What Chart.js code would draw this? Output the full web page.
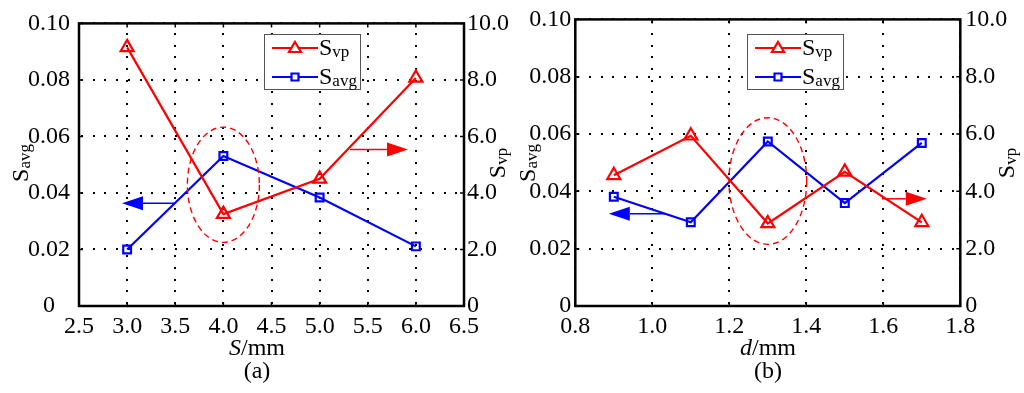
<!DOCTYPE html>
<html>
<head>
<meta charset="utf-8">
<script src="https://cdn.jsdelivr.net/npm/chart.js@4"></script>
<style>
  html, body { margin: 0; padding: 0; background: #fff; }
  .row { display: flex; width: 1024px; height: 393px; }
  .panel { width: 512px; height: 393px; }
</style>
</head>
<body>
<div class="row">
  <div class="panel"><canvas id="chartA" width="512" height="393"></canvas></div>
  <div class="panel"><canvas id="chartB" width="512" height="393"></canvas></div>
</div>
<script>
// Panel (a): spacing S
const sA = [3.0, 4.0, 5.0, 6.0];
const svpA = [9.15, 3.25, 4.50, 8.07];
const savgA = [0.0200, 0.0531, 0.0384, 0.0211];

// Panel (b): diameter d
const dB = [0.9, 1.1, 1.3, 1.5, 1.7];
const svpB = [4.56, 5.94, 2.88, 4.68, 2.92];
const savgB = [0.0381, 0.0292, 0.0574, 0.0359, 0.0569];

const SERIF = "'Liberation Serif', 'DejaVu Serif', serif";
const RED = '#ff0000';
const BLUE = '#0000ff';

// draw text made of parts (big S + small subscript)
function richWidth(ctx, parts) {
    let w = 0;
    parts.forEach(p => { ctx.font = p.font; w += ctx.measureText(p.t).width; });
    return w;
}
function drawRich(ctx, parts, x, y) {
    let cx = x;
    parts.forEach(p => {
        ctx.font = p.font;
        ctx.fillText(p.t, cx, y + (p.dy || 0));
        cx += ctx.measureText(p.t).width;
    });
}
const lblSvp = [{ t: 'S', font: '24px ' + SERIF }, { t: 'vp', font: '17px ' + SERIF, dy: 2 }];
const lblSavg = [{ t: 'S', font: '24px ' + SERIF }, { t: 'avg', font: '17px ' + SERIF, dy: 2 }];

function arrowHead(ctx, x1, y, x2, len, half) {
    const dir = Math.sign(x2 - x1);
    ctx.beginPath();
    ctx.moveTo(x1, y);
    ctx.lineTo(x2 - dir * len, y);
    ctx.stroke();
    ctx.beginPath();
    ctx.moveTo(x2, y);
    ctx.lineTo(x2 - dir * len, y - half);
    ctx.lineTo(x2 - dir * len, y + half);
    ctx.closePath();
    ctx.fill();
}

const DOT_STEP = 11.7;

const decorPlugin = {
    id: 'decor',
    beforeDatasetsDraw(chart) {
        // dotted grid, drawn as crisp 2px dots
        const ctx = chart.ctx;
        const a = chart.chartArea;
        const x = chart.scales.x, y = chart.scales.y;
        ctx.save();
        ctx.fillStyle = '#000';
        x.ticks.forEach(t => {
            const px = Math.round(x.getPixelForValue(t.value));
            for (let yy = a.bottom - 3; yy > a.top + 2; yy -= DOT_STEP) {
                ctx.fillRect(px - 1, Math.round(yy) - 1, 2, 2);
            }
        });
        y.ticks.forEach(t => {
            const py = Math.round(y.getPixelForValue(t.value));
            for (let xx = a.left + 3; xx < a.right - 2; xx += DOT_STEP) {
                ctx.fillRect(Math.round(xx) - 1, py - 1, 2, 2);
            }
        });
        ctx.restore();
    },
    afterDatasetsDraw(chart, args, opts) {
        const ctx = chart.ctx;
        const a = chart.chartArea;
        const x = chart.scales.x, y = chart.scales.y, y1 = chart.scales.y1;
        ctx.save();

        // frame + inner ticks
        ctx.strokeStyle = '#000';
        ctx.lineWidth = 1.5;
        ctx.setLineDash([]);
        y.ticks.forEach(t => {
            const py = y.getPixelForValue(t.value);
            ctx.beginPath();
            ctx.moveTo(a.left, py); ctx.lineTo(a.left + 4, py);
            ctx.moveTo(a.right, py); ctx.lineTo(a.right - 4, py);
            ctx.stroke();
        });
        x.ticks.forEach(t => {
            const px = x.getPixelForValue(t.value);
            ctx.beginPath();
            ctx.moveTo(px, a.bottom); ctx.lineTo(px, a.bottom - 4);
            ctx.moveTo(px, a.top); ctx.lineTo(px, a.top + 4);
            ctx.stroke();
        });
        ctx.lineWidth = 2.5;
        ctx.strokeRect(a.left, a.top, a.right - a.left, a.bottom - a.top);

        // dashed ellipse
        const e = opts.ellipse;
        const ex = x.getPixelForValue(e.x), ey = y.getPixelForValue(e.y);
        const rx = x.getPixelForValue(e.x + e.rx) - ex;
        const ry = ey - y.getPixelForValue(e.y + e.ry);
        ctx.strokeStyle = RED;
        ctx.lineWidth = 1.4;
        ctx.setLineDash([6, 4]);
        ctx.beginPath();
        ctx.ellipse(ex, ey, rx, ry, 0, 0, Math.PI * 2);
        ctx.stroke();
        ctx.setLineDash([]);

        // arrows pointing to the axis each series belongs to
        const ba = opts.blueArrow, ra = opts.redArrow;
        ctx.lineWidth = 1.5;
        ctx.strokeStyle = BLUE; ctx.fillStyle = BLUE;
        arrowHead(ctx, x.getPixelForValue(ba.from), y.getPixelForValue(ba.y), x.getPixelForValue(ba.to), 21, 7);
        ctx.strokeStyle = RED; ctx.fillStyle = RED;
        arrowHead(ctx, x.getPixelForValue(ra.from), y1.getPixelForValue(ra.y), x.getPixelForValue(ra.to), 21, 7);

        // legend
        const L = opts.legend;
        ctx.fillStyle = '#fff';
        ctx.fillRect(L.x, L.y, 96, 55);
        ctx.strokeStyle = '#555';
        ctx.lineWidth = 1;
        ctx.strokeRect(L.x + 0.5, L.y + 0.5, 96, 55);
        const rows = [
            { color: RED, lbl: lblSvp, style: 'tri', ly: L.y + 14 },
            { color: BLUE, lbl: lblSavg, style: 'sq', ly: L.y + 43 }
        ];
        rows.forEach(r => {
            ctx.strokeStyle = r.color;
            ctx.lineWidth = 2.2;
            ctx.beginPath();
            ctx.moveTo(L.x + 8, r.ly); ctx.lineTo(L.x + 54, r.ly);
            ctx.stroke();
            const mx = L.x + 31;
            ctx.fillStyle = '#fff';
            ctx.beginPath();
            if (r.style === 'tri') {
                ctx.moveTo(mx, r.ly - 6); ctx.lineTo(mx + 6, r.ly + 4); ctx.lineTo(mx - 6, r.ly + 4);
                ctx.closePath();
            } else {
                ctx.rect(mx - 3.5, r.ly - 3.5, 7, 7);
            }
            ctx.fill();
            ctx.stroke();
            ctx.fillStyle = '#000';
            ctx.textAlign = 'left';
            ctx.textBaseline = 'alphabetic';
            drawRich(ctx, r.lbl, L.x + 55, r.ly + 7);
        });

        // axis titles (rotated)
        ctx.fillStyle = '#000';
        ctx.textAlign = 'left';
        ctx.textBaseline = 'alphabetic';
        [[lblSavg, opts.leftTitleX], [lblSvp, opts.rightTitleX]].forEach(([lbl, tx]) => {
            const w = richWidth(ctx, lbl);
            ctx.save();
            ctx.translate(tx, 163);
            ctx.rotate(-Math.PI / 2);
            drawRich(ctx, lbl, -w / 2, 0);
            ctx.restore();
        });

        // x title + panel label
        const xt = [{ t: opts.xVar, font: 'italic 24px ' + SERIF }, { t: '/mm', font: '24px ' + SERIF }];
        const xw = richWidth(ctx, xt);
        drawRich(ctx, xt, opts.titleCx - xw / 2, 355);
        ctx.font = '24px ' + SERIF;
        ctx.textAlign = 'center';
        ctx.fillText(opts.panel, opts.titleCx, 378);

        ctx.restore();
    }
};

function makeChart(id, xs, svp, savg, cfg) {
    const fmt1 = v => (Math.abs(v) < 1e-9 ? '0' : v.toFixed(1));
    const fmt2 = v => (Math.abs(v) < 1e-9 ? '0' : v.toFixed(2));
    const tickFont = { family: SERIF, size: 24 };
    return new Chart(document.getElementById(id), {
        type: 'line',
        data: {
            datasets: [
                {
                    label: 'Svp',
                    data: xs.map((v, i) => ({ x: v, y: svp[i] })),
                    yAxisID: 'y1',
                    borderColor: RED,
                    backgroundColor: 'rgba(0,0,0,0)',
                    borderWidth: 2.2,
                    pointStyle: 'triangle',
                    pointRadius: 7.5,
                    pointBorderWidth: 2.2,
                    tension: 0
                },
                {
                    label: 'Savg',
                    data: xs.map((v, i) => ({ x: v, y: savg[i] })),
                    yAxisID: 'y',
                    borderColor: BLUE,
                    backgroundColor: 'rgba(0,0,0,0)',
                    borderWidth: 2.2,
                    pointStyle: 'rect',
                    pointRadius: 5.5,
                    pointBorderWidth: 2.2,
                    tension: 0
                }
            ]
        },
        options: {
            responsive: false,
            animation: false,
            devicePixelRatio: 1,
            layout: { padding: { top: 17, left: 0, right: 0, bottom: 0 } },
            plugins: {
                legend: { display: false },
                tooltip: { enabled: false },
                decor: cfg.decor
            },
            scales: {
                x: {
                    type: 'linear',
                    min: cfg.xMin, max: cfg.xMax,
                    ticks: { stepSize: cfg.xStep, color: '#000', font: tickFont, padding: 6, callback: fmt1, maxRotation: 0, autoSkip: false },
                    grid: { display: false, drawTicks: false },
                    border: { display: false },
                    afterFit: s => { s.height = 87; }
                },
                y: {
                    position: 'left',
                    min: 0, max: 0.1,
                    ticks: { stepSize: 0.02, color: '#000', font: tickFont, padding: cfg.leftPad, crossAlign: cfg.leftAlign, callback: fmt2 },
                    grid: { display: false, drawTicks: false },
                    border: { display: false },
                    afterFit: s => { s.width = cfg.leftW; }
                },
                y1: {
                    position: 'right',
                    min: 0, max: 10,
                    ticks: { stepSize: 2, color: '#000', font: tickFont, padding: cfg.rightPad, callback: fmt1 },
                    grid: { display: false, drawTicks: false },
                    border: { display: false },
                    afterFit: s => { s.width = cfg.rightW; }
                }
            }
        },
        plugins: [decorPlugin]
    });
}

makeChart('chartA', sA, svpA, savgA, {
    xMin: 2.5, xMax: 6.5, xStep: 0.5,
    leftW: 79, rightW: 48, leftPad: 9, rightPad: 3, leftAlign: 'center',
    decor: {
        ellipse: { x: 4.0, y: 0.0429, rx: 0.374, ry: 0.0204 },
        blueArrow: { from: 3.5, to: 2.947, y: 0.0364 },
        redArrow: { from: 5.316, to: 5.918, y: 5.54 },
        legend: { x: 264, y: 34 },
        leftTitleX: 28, rightTitleX: 505,
        xVar: 'S', panel: '(a)', titleCx: 257
    }
});

makeChart('chartB', dB, svpB, savgB, {
    xMin: 0.8, xMax: 1.8, xStep: 0.2,
    leftW: 63.3, rightW: 63.7, leftPad: 4, rightPad: 5, leftAlign: 'near',
    decor: {
        ellipse: { x: 1.3, y: 0.0436, rx: 0.101, ry: 0.0221 },
        blueArrow: { from: 1.033, to: 0.887, y: 0.0322 },
        redArrow: { from: 1.596, to: 1.713, y: 3.74 },
        legend: { x: 235, y: 34 },
        leftTitleX: 23, rightTitleX: 502,
        xVar: 'd', panel: '(b)', titleCx: 256
    }
});
</script>
</body>
</html>
